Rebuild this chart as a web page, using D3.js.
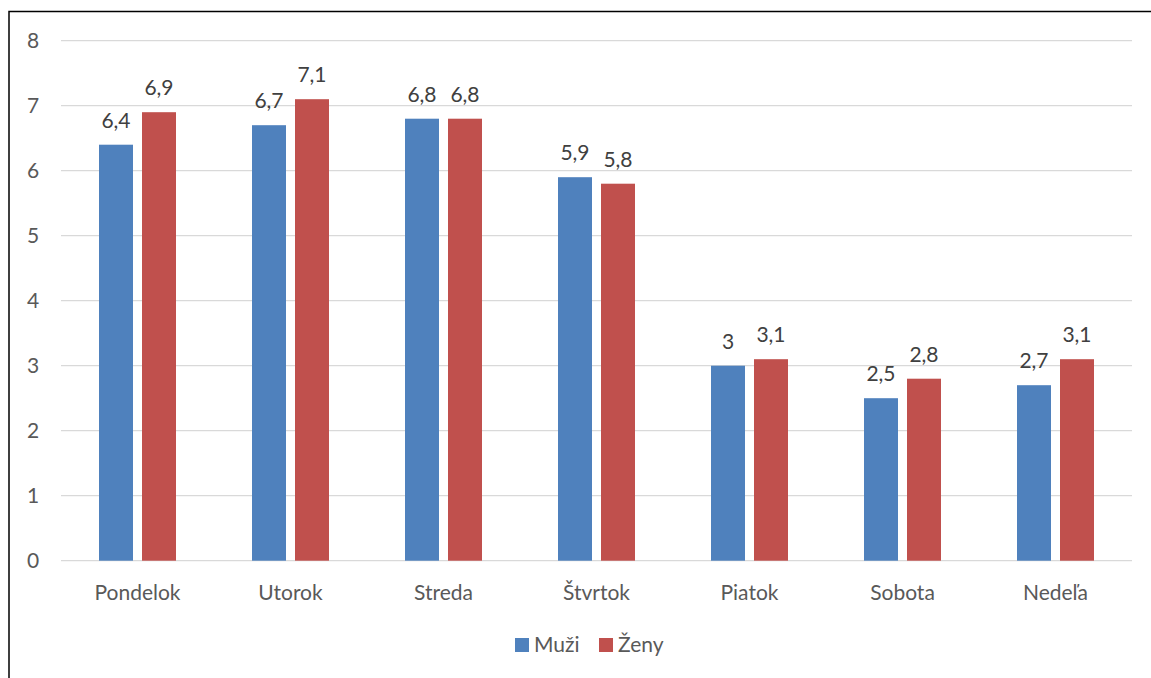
<!DOCTYPE html>
<html><head><meta charset="utf-8">
<script src="https://cdn.jsdelivr.net/npm/d3@7"></script>
<style>body{margin:0;background:#fff;}svg{display:block;font-family:Lato,"Open Sans",sans-serif;}</style>
</head><body>
<svg id="c" width="1151" height="678"></svg>
<script>
const categories = ["Pondelok","Utorok","Streda","Štvrtok","Piatok","Sobota","Nedeľa"];
const muzi = [6.4,6.7,6.8,5.9,3,2.5,2.7];
const zeny = [6.9,7.1,6.8,5.8,3.1,2.8,3.1];
const seriesNames = ["Muži","Ženy"];
const colors = ["#4F81BD","#C0504D"];
const yTicks = [0,1,2,3,4,5,6,7,8];

(function(){
const svg = d3.select("#c");
const fs = 21;
svg.append("rect").attr("x",9).attr("y",11.5).attr("width",1160).attr("height",700)
  .attr("fill","none").attr("stroke","#000").attr("stroke-width",1.5);

const pLeft=61, pRight=1132, pTop=40.7, pBottom=560.7;
const x = d3.scaleBand().domain(categories).range([pLeft,pRight]);
const y = d3.scaleLinear().domain([0,8]).range([pBottom,pTop]);
const barW = 34, gap = 9;

svg.append("g").selectAll("line").data(yTicks).join("line")
  .attr("x1",pLeft).attr("x2",pRight).attr("y1",d=>y(d)).attr("y2",d=>y(d))
  .attr("stroke","#D9D9D9").attr("stroke-width",1.3);

svg.append("g").selectAll("text").data(yTicks).join("text")
  .attr("x",33).attr("y",d=>y(d)+7.5).attr("text-anchor","middle")
  .attr("font-size",fs).attr("fill","#595959").text(d=>d);

const fmt = v => String(v).replace(".",",");
[muzi,zeny].forEach((vals,si)=>{
  const off = si===0 ? -gap/2-barW : gap/2;
  const g = svg.append("g");
  g.selectAll("rect").data(vals).join("rect")
    .attr("x",(d,i)=>x(categories[i])+x.bandwidth()/2+off)
    .attr("y",d=>y(d)).attr("width",barW).attr("height",d=>y(0)-y(d))
    .attr("fill",colors[si]);
  g.selectAll("text").data(vals).join("text")
    .attr("x",(d,i)=>x(categories[i])+x.bandwidth()/2+off+barW/2)
    .attr("y",d=>y(d)-17).attr("text-anchor","middle")
    .attr("font-size",fs).attr("fill","#404040").text(fmt);
});

svg.append("g").selectAll("text").data(categories).join("text")
  .attr("x",d=>x(d)+x.bandwidth()/2).attr("y",600).attr("text-anchor","middle")
  .attr("font-size",fs).attr("fill","#595959").text(d=>d);

const legX = [515,599];
seriesNames.forEach((n,i)=>{
  svg.append("rect").attr("x",legX[i]).attr("y",638).attr("width",14).attr("height",14).attr("fill",colors[i]);
  svg.append("text").attr("x",legX[i]+19).attr("y",652).attr("font-size",fs).attr("fill","#595959").text(n);
});
})();
</script>
</body></html>
